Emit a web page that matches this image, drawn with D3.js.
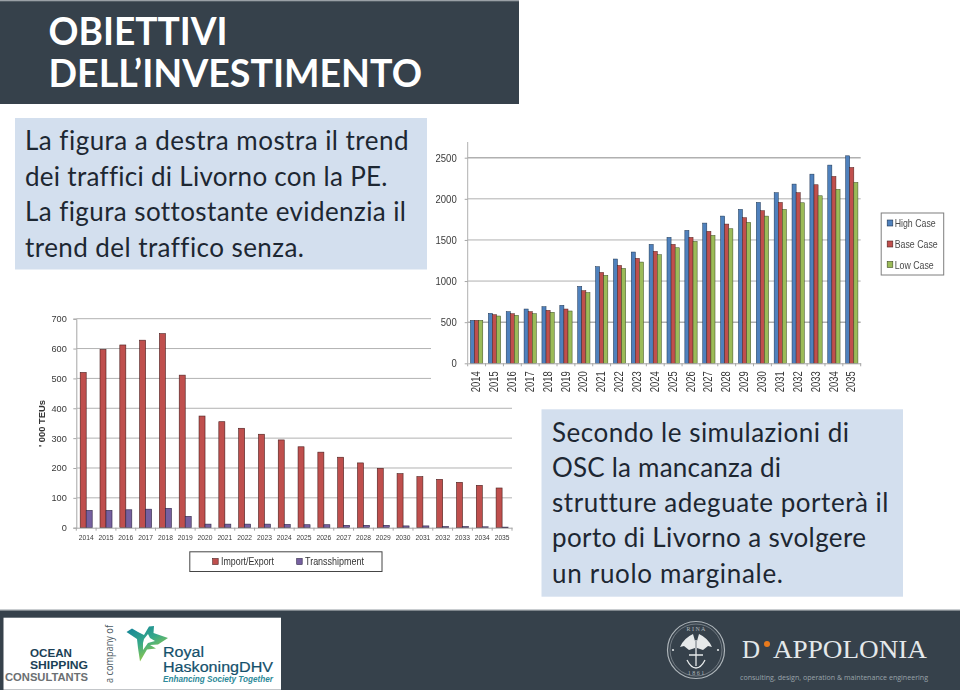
<!DOCTYPE html>
<html><head><meta charset="utf-8">
<script src="https://cdnjs.cloudflare.com/ajax/libs/d3/7.8.5/d3.min.js"></script>
<style>html,body{margin:0;padding:0;background:#fff}svg{display:block}text{font-variant-ligatures:none}</style>
</head><body><svg id="c" width="960" height="690"></svg>
<script>
const years = d3.range(2014, 2036).map(String);
const highCase = [522,607,628,660,688,705,935,1175,1268,1353,1446,1531,1616,1705,1790,1871,1956,2074,2179,2300,2410,2523];
const baseCase = [522,591,603,628,644,660,883,1105,1190,1276,1361,1446,1531,1604,1693,1770,1855,1956,2074,2171,2272,2381];
const lowCase  = [522,575,583,603,620,636,859,1069,1154,1231,1320,1405,1482,1555,1636,1713,1790,1871,1952,2037,2114,2199];
const importExport  = [520,597,612,628,650,511,374,355,333,313,294,271,253,236,217,199,181,171,162,152,142,133];
const transshipment = [58,58,60,62,65,38,12,12,12,12,11,10,10,8,8,8,6,6,4,4,3,2];
const topTicks = [0,500,1000,1500,2000,2500];
const bottomTicks = [0,100,200,300,400,500,600,700];
const topSeries = ["High Case","Base Case","Low Case"];
const bottomSeries = ["Import/Export","Transshipment"];
const titleLines = ["OBIETTIVI","DELL’INVESTIMENTO"];
const leftLines = ["La figura a destra mostra il trend","dei traffici di Livorno con la PE.","La figura sottostante evidenzia il","trend del traffico senza."];
const rightLines = ["Secondo le simulazioni di","OSC la mancanza di","strutture adeguate porterà il","porto di Livorno a svolgere","un ruolo marginale."];

const DARK="#36414b", BOX="#d3dfee", INK="#1d2732";
const svg=d3.select("#c");
const defs=svg.append("defs");
defs.append("filter").attr("id","soft").append("feGaussianBlur").attr("stdDeviation",0.3);
defs.append("clipPath").attr("id","lowclip").append("rect").attr("x",0).attr("y",315).attr("width",960).attr("height",300);
const g1=defs.append("linearGradient").attr("id","star").attr("x1",0).attr("y1",0).attr("x2",.6).attr("y2",1);
g1.append("stop").attr("offset",0).attr("stop-color","#0f7f9a");
g1.append("stop").attr("offset",.5).attr("stop-color","#35a88a");
g1.append("stop").attr("offset",1).attr("stop-color","#a6cf3c");

function rect(p,x,y,w,h,f){return p.append("rect").attr("x",x).attr("y",y).attr("width",w).attr("height",h).attr("fill",f);}
function label(p,x,y,s,o={}){const t=p.append("text").attr("x",x).attr("y",y).text(s)
  .attr("font-family",o.font||"Lato").attr("font-size",o.size||12).attr("fill",o.fill||INK);
  if(o.weight)t.attr("font-weight",o.weight); if(o.style)t.attr("font-style",o.style);
  if(o.anchor)t.attr("text-anchor",o.anchor); if(o.len)t.attr("textLength",o.len).attr("lengthAdjust",o.adjust||"spacingAndGlyphs");
  if(o.stroke)t.attr("stroke",o.fill||INK).attr("stroke-width",o.stroke);
  if(o.rot)t.attr("transform",`rotate(${o.rot} ${x} ${y})`); return t;}

// ---------- bottom chart ----------
const low=svg.append("g").attr("clip-path","url(#lowclip)").append("g").attr("filter","url(#soft)");
const LX=[76.3,512], LY=[527.7,318.7];
const xL=d3.scaleBand().domain(years).range(LX);
const barL=6;
const xLi=d3.scaleBand().domain([0,1]).range([(xL.bandwidth()-2*barL)/2,(xL.bandwidth()+2*barL)/2]);
const yL=d3.scaleLinear().domain([0,700]).range(LY);
const sans="Liberation Sans";
low.append("g").attr("transform",`translate(${LX[0]},0)`)
  .call(d3.axisLeft(yL).tickValues(bottomTicks).tickSize(3).tickPadding(6.5))
  .call(a=>{a.select(".domain").attr("stroke","#a6a6a6");a.selectAll("line").attr("stroke","#a6a6a6");
    a.selectAll("text").attr("font-family",sans).attr("font-size",9.2).attr("fill","#3a3a3a");});
low.append("g").selectAll("line").data(bottomTicks.slice(1)).join("line")
  .attr("x1",LX[0]).attr("x2",LX[1]).attr("y1",d=>yL(d)).attr("y2",d=>yL(d)).attr("stroke","#b2b2b2").attr("stroke-width",1);
[[importExport,"#bf4f4d","#4a1f1e"],[transshipment,"#7661a0","#2e2545"]].forEach(([vals,f,s],k)=>{
  low.append("g").selectAll("rect").data(vals).join("rect")
   .attr("x",(d,i)=>xL(years[i])+xLi(k)).attr("width",xLi.bandwidth())
   .attr("y",d=>yL(d)).attr("height",d=>yL(0)-yL(d)).attr("fill",f).attr("stroke",s).attr("stroke-width",.6);
});
low.append("g").attr("transform",`translate(0,${LY[0]})`)
  .call(d3.axisBottom(xL).tickSize(0).tickPadding(7.5))
  .call(a=>{a.select(".domain").attr("stroke","#a6a6a6");
    a.selectAll("text").attr("font-family",sans).attr("font-size",6.7).attr("fill","#3a3a3a");
    a.selectAll("line").remove();});
low.append("g").selectAll("line").data(years.concat(["end"])).join("line")
  .attr("x1",d=>d==="end"?LX[1]:xL(d)).attr("x2",d=>d==="end"?LX[1]:xL(d)).attr("y1",LY[0]).attr("y2",LY[0]+3).attr("stroke","#a6a6a6");
label(low,45,447,"' 000 TEUs",{font:sans,size:9,weight:"bold",fill:"#333",rot:-90,len:47});
rect(low,189.8,551.8,192.2,19.7,"#fff").attr("stroke","#444").attr("stroke-width",1);
[[212.7,221,53,"#bf4f4d","#4a1f1e"],[296.7,305,59,"#7661a0","#2e2545"]].forEach(([x,tx,l,f,s],k)=>{
  rect(low,x,558.5,5.5,6,f).attr("stroke",s).attr("stroke-width",.6);
  label(low,tx,565,bottomSeries[k],{font:sans,size:10.5,fill:"#333",len:l});
});

// ---------- top chart ----------
rect(svg,431,140,517,258,"#fff");
const upper=svg.append("g").attr("filter","url(#soft)");
const TX=[467.7,860.7], TY=[363.3,157.7];
const xT=d3.scaleBand().domain(years).range(TX);
const barW=4.1;
const xTi=d3.scaleBand().domain([0,1,2]).range([(xT.bandwidth()-3*barW)/2,(xT.bandwidth()+3*barW)/2]);
const yT=d3.scaleLinear().domain([0,2500]).range(TY);
upper.append("line").attr("x1",TX[0]).attr("x2",TX[0]).attr("y1",142).attr("y2",TY[0]).attr("stroke","#b0b0b0").attr("stroke-width",1);
upper.append("g").attr("transform",`translate(${TX[0]},0)`)
  .call(d3.axisLeft(yT).tickValues(topTicks).tickFormat(d3.format("d")).tickSize(3).tickPadding(8))
  .call(a=>{a.select(".domain").remove();a.selectAll("line").attr("stroke","#a6a6a6");
    a.selectAll("text").attr("font-family",sans).attr("font-size",10.7).attr("fill","#3a3a3a")
     .attr("textLength",d=>String(d).length*5.3).attr("lengthAdjust","spacingAndGlyphs");});
upper.append("g").selectAll("line").data(topTicks.slice(1)).join("line")
  .attr("x1",TX[0]).attr("x2",TX[1]).attr("y1",d=>yT(d)).attr("y2",d=>yT(d)).attr("stroke","#b0b0b0")
  .attr("stroke-width",d=>d===2500||d===500?1.5:1);
[[highCase,"#4f81bd","#1d3450"],[baseCase,"#c0504d","#4a1f1e"],[lowCase,"#9bbb59","#3c4a22"]].forEach(([vals,f,s],k)=>{
  upper.append("g").selectAll("rect").data(vals).join("rect")
   .attr("x",(d,i)=>xT(years[i])+xTi(k)).attr("width",xTi.bandwidth())
   .attr("y",d=>yT(d)).attr("height",d=>yT(0)-yT(d)).attr("fill",f).attr("stroke",s).attr("stroke-width",.5);
});
upper.append("g").attr("transform",`translate(0,${TY[0]})`)
  .call(d3.axisBottom(xT).tickSize(0).tickPadding(0))
  .call(a=>{a.select(".domain").attr("stroke","#a6a6a6");a.selectAll("line").remove();
    a.selectAll("text").attr("font-family",sans).attr("font-size",12.5).attr("fill","#3a3a3a")
     .attr("textLength",21).attr("lengthAdjust","spacingAndGlyphs")
     .attr("text-anchor","start").attr("dy",0).attr("y",0).attr("transform","translate(3.6,29) rotate(-90)");});
upper.append("g").selectAll("line").data(years.concat(["end"])).join("line")
  .attr("x1",d=>d==="end"?TX[1]:xT(d)).attr("x2",d=>d==="end"?TX[1]:xT(d)).attr("y1",TY[0]).attr("y2",TY[0]+3).attr("stroke","#a6a6a6");
rect(upper,881.2,213,62.5,62,"#fff").attr("stroke","#7f7f7f").attr("stroke-width",1);
[["#4f81bd","#1d3450",223,41],["#c0504d","#4a1f1e",244,43],["#9bbb59","#3c4a22",264.5,39]].forEach(([f,s,y,l],k)=>{
  rect(upper,887.2,y-3,5.6,6,f).attr("stroke",s).attr("stroke-width",.6);
  label(upper,894.7,y+4,topSeries[k],{font:sans,size:11,fill:"#4a4a4a",len:l});
});

// ---------- slide furniture ----------
rect(svg,0,0,519,104,"#9aa0a6");
rect(svg,0,1.3,519,102.7,DARK);
titleLines.forEach((s,i)=>label(svg,48.5,[45,87.3][i],s,{size:39,weight:700,fill:"#fff",len:[179,373.5][i]}));
rect(svg,15,118,412,151.5,BOX);
const leftBase=[150,186,221.4,256.6], leftLen=[383.5,362.5,381,279];
leftLines.forEach((s,i)=>label(svg,25,leftBase[i],s,{size:26,len:leftLen[i],adjust:"spacing"}));
rect(svg,541.5,409.3,361.5,187.4,BOX);
const rightBase=[441.7,477.2,512,547.3,582.5], rightLen=[297,229,336.5,314,231];
rightLines.forEach((s,i)=>label(svg,552,rightBase[i],s,{size:26,len:rightLen[i],adjust:"spacing"}));
rect(svg,0,609,960,81,DARK);
rect(svg,0,609,960,1.5,"#c9cdd0");
rect(svg,3.5,617.7,277.5,72,"#fff");
// left logo
const NAVY="#1b3f56";
label(svg,30,657,"OCEAN",{font:sans,size:10.4,weight:"bold",fill:NAVY,len:42});
label(svg,30,669,"SHIPPING",{font:sans,size:10.4,weight:"bold",fill:NAVY,len:58});
label(svg,5,681,"CONSULTANTS",{font:sans,size:10.4,weight:"bold",fill:"#6b6f72",len:83});
label(svg,113,683,"a company of",{font:"Open Sans",size:10.5,fill:"#4c5a63",rot:-90,len:58});
svg.append("path").attr("fill","url(#star)")
 .attr("d",d3.line()([[126.5,632],[132,628.5],[138,632],[144,635],[149,626.5],[154,626],[153.5,633],[168,638],[158,644.5],[150,645],[156,648.5],[147,649.5],[140,661.5],[138,648],[137,639]]));
svg.append("path").attr("fill","#fff")
 .attr("d",d3.line()([[144,639],[148,634],[150,638],[155,641],[148,643],[143,650],[143,643]]));
label(svg,163,657,"Royal",{font:sans,size:14,fill:"#14506b",len:41,stroke:.2});
label(svg,163,671.5,"HaskoningDHV",{font:sans,size:14,fill:"#14506b",len:110,stroke:.2});
label(svg,163,681.8,"Enhancing Society Together",{font:sans,size:8.2,weight:"bold",style:"italic",fill:"#2d8a99",len:110});
// right logo
const em=svg.append("g").attr("fill","none").attr("stroke","#aeb5ba");
em.append("circle").attr("cx",696).attr("cy",650).attr("r",28.5).attr("stroke-width",1.2);
em.append("circle").attr("cx",696).attr("cy",650).attr("r",26).attr("stroke-width",.5);
em.append("path").attr("stroke","#e6e9ea").attr("stroke-width",1.3)
 .attr("d","M696,640 V666 M689,655 H703 M687,660 Q691,668 696,668 Q701,668 705,660");
svg.append("path").attr("fill","#e6e9ea")
 .attr("d","M680,647 Q684,638 693,634 L695,641 L695,648 L689,650 L684,646 Z M712,647 Q708,638 699,634 L697,641 L697,648 L703,650 L708,646 Z");
svg.selectAll(".dot").data([673,718]).join("circle").attr("cx",d=>d).attr("cy",650).attr("r",1.1).attr("fill","#dfe3e5");
label(svg,696,631,"R I N A",{font:"Liberation Serif",size:6,fill:"#aeb5ba",anchor:"middle"});
label(svg,696,675,"1 8 6 1",{font:"Liberation Serif",size:6,fill:"#aeb5ba",anchor:"middle"});
label(svg,742,658,"D",{font:"Liberation Serif",size:25,fill:"#e4e8ea"});
svg.append("circle").attr("cx",767).attr("cy",644).attr("r",3).attr("fill","#e87a1d");
label(svg,773,658,"APPOLONIA",{font:"Liberation Serif",size:25,fill:"#e4e8ea",len:154});
label(svg,740,680,"consulting, design, operation & maintenance engineering",{font:"Open Sans",size:8,fill:"#9aa4aa",len:188});
</script></body></html>
